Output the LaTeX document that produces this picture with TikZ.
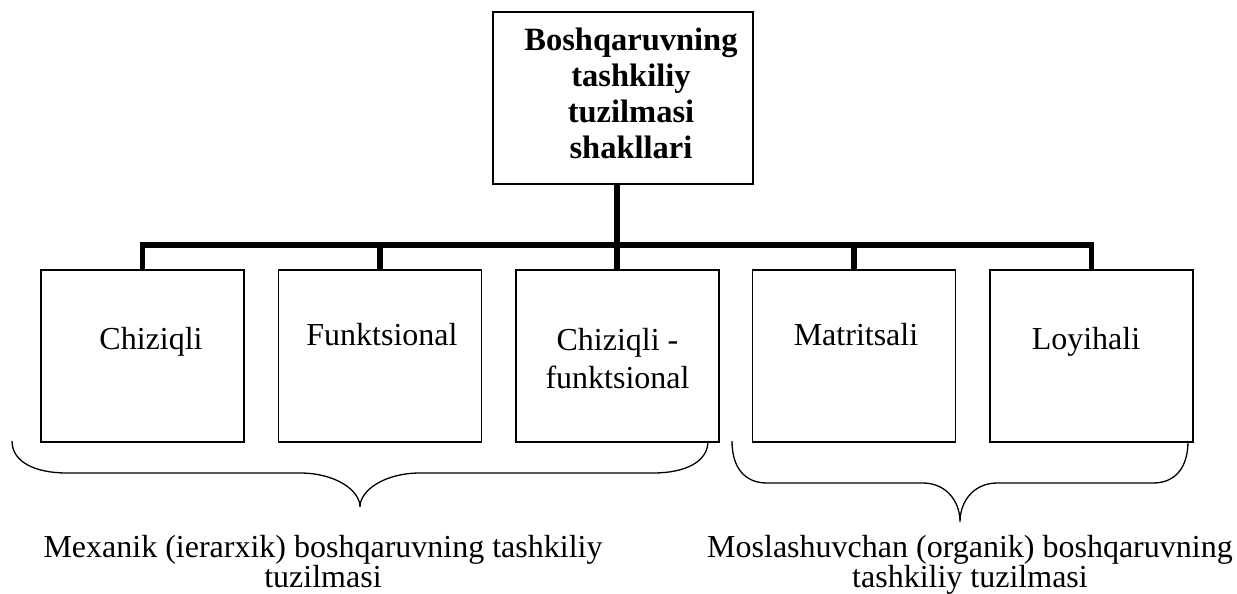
\documentclass[tikz,border=0pt]{standalone}
\usepackage{fontspec}
\setmainfont{Liberation Serif}
\begin{document}
\begin{tikzpicture}[x=1pt,y=-1pt,
  box/.style={draw, line width=1.6pt, minimum width=203pt, minimum height=172pt, inner sep=0pt},
  conn/.style={line width=5.5pt, line join=miter},
  txt/.style={font=\fontsize{32}{38}\selectfont, inner sep=0pt, align=center},
  btxt/.style={font=\fontsize{32}{30}\selectfont, inner sep=0pt, align=center},
  brace/.style={line width=1.3pt}]
\useasboundingbox (0,0) rectangle (1237,594);
% top box
\node[box, minimum width=260pt] (top) at (623,98) {};
\node[txt, anchor=base, font=\bfseries\fontsize{32.5}{36}\selectfont] (toptxt) at (631,158) {Boshqaruvning\\tashkiliy\\tuzilmasi\\shakllari};
% child boxes
\node[box] (b1) at (142.5,356) {};
\node[box] (b2) at (380,356) {};
\node[box] (b3) at (617.5,356) {};
\node[box] (b4) at (854,356) {};
\node[box] (b5) at (1091.5,356) {};
\node[txt, anchor=base] (t1) at (151,349) {Chiziqli};
\node[txt, anchor=base] (t2) at (382,345) {Funktsional};
\node[txt, anchor=base] (t3) at (617.5,388) {Chiziqli -\\funktsional};
\node[txt, anchor=base] (t4) at (856,345) {Matritsali};
\node[txt, anchor=base] (t5) at (1086,349) {Loyihali};
% connectors
\coordinate (bus) at (617,245);
\draw[conn] (top.south -| bus) -- (b3.north -| bus);
\draw[conn] (b1.north) |- (bus) -| (b5.north);
\draw[conn] (b2.north) -- (b2.north |- bus);
\draw[conn] (b4.north) -- (b4.north |- bus);
% braces
\draw[brace] (12,441) .. controls (12,462) and (35,473) .. (67,473)
  -- (300,473) .. controls (335,473) and (360,490) .. (360,507)
  .. controls (360,490) and (385,473) .. (420,473)
  -- (653,473) .. controls (685,473) and (708,462) .. (708,441);
\draw[brace] (732,441) .. controls (732,468) and (745,483) .. (767,483)
  -- (923,483) .. controls (945,483) and (960,500) .. (960,522)
  .. controls (960,500) and (975,483) .. (997,483)
  -- (1153,483) .. controls (1175,483) and (1188,468) .. (1188,441);
% bottom labels
\node[btxt, anchor=base] (lab1) at (323,587) {Mexanik (ierarxik) boshqaruvning tashkiliy\\tuzilmasi};
\node[btxt, anchor=base] (lab2) at (970,587) {Moslashuvchan (organik) boshqaruvning\\tashkiliy tuzilmasi};
\end{tikzpicture}
\end{document}
